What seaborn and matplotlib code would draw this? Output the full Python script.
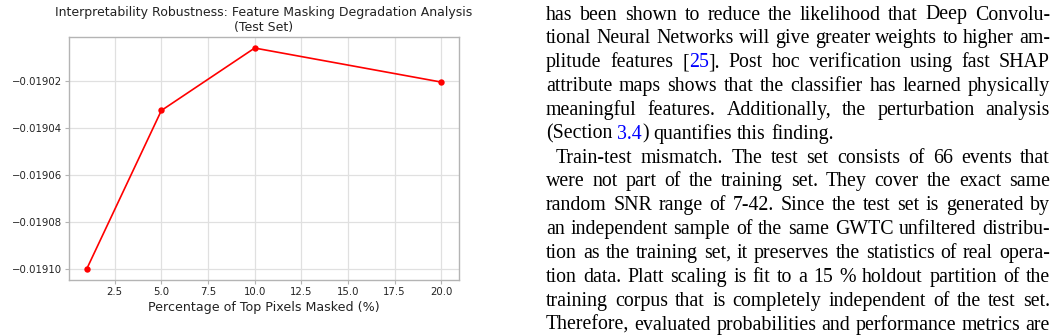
import matplotlib
matplotlib.use("Agg")
import matplotlib.pyplot as plt
import seaborn as sns
import pandas as pd

# Chart data
mask_pct = [1, 5, 10, 20]
score = [-0.0191000, -0.0190325, -0.0190059, -0.0190204]
y_ticks = [-0.01910, -0.01908, -0.01906, -0.01904, -0.01902]

chart_title = "Interpretability Robustness: Feature Masking Degradation Analysis\n(Test Set)"
x_label = "Percentage of Top Pixels Masked (%)"

# Page text next to the figure; {...} marks blue reference links
body_lines = [
    "has been shown to reduce the likelihood that Deep Convolu-",
    "tional Neural Networks will give greater weights to higher am-",
    "plitude features [{25}]. Post hoc verification using fast SHAP",
    "attribute maps shows that the classifier has learned physically",
    "meaningful features. Additionally, the perturbation analysis",
    "(Section {3.4}) quantifies this finding.",
    "Train-test mismatch. The test set consists of 66 events that",
    "were not part of the training set. They cover the exact same",
    "random SNR range of 7-42. Since the test set is generated by",
    "an independent sample of the same GWTC unfiltered distribu-",
    "tion as the training set, it preserves the statistics of real opera-",
    "tion data. Platt scaling is fit to a 15 % holdout partition of the",
    "training corpus that is completely independent of the test set.",
    "Therefore, evaluated probabilities and performance metrics are",
]
ragged_lines = {5}
indented_lines = {6}

W, H = 1053, 336
sns.set_style("whitegrid", {
    "grid.color": "#e0e0e0",
    "axes.edgecolor": "#b4b4b4",
    "xtick.bottom": True,
    "ytick.left": True,
    "xtick.color": "#b4b4b4",
    "ytick.color": "#b4b4b4",
})
plt.rcParams["font.family"] = ["DejaVu Sans"]
plt.rcParams["xtick.labelcolor"] = "#222222"
plt.rcParams["ytick.labelcolor"] = "#222222"

fig = plt.figure(figsize=(W / 100, H / 100), dpi=100)
ax = fig.add_axes([69 / W, 1 - 280 / H, 390 / W, 243 / H])

df = pd.DataFrame({"pct": mask_pct, "score": score})
sns.lineplot(data=df, x="pct", y="score", color="red", marker="o",
             markersize=4.6, markeredgewidth=0, linewidth=1.2, ax=ax)

ax.set_yticks(y_ticks)
ax.yaxis.set_major_formatter(
    matplotlib.ticker.FuncFormatter(lambda v, _: f"{v:.5f}".replace("-", "\u2212")))
ax.tick_params(labelsize=7.3, length=3, width=0.8, pad=2)
ax.set_xlabel(x_label, fontsize=9.1, color="#222222", labelpad=3)
ax.set_ylabel("")
ax.set_title(chart_title, fontsize=9.0, color="#222222", pad=4, linespacing=1.2)
for s in ax.spines.values():
    s.set_linewidth(1.0)
ax.grid(True, linewidth=0.9)

# --- justified page text on the right ---
renderer = fig.canvas.get_renderer()
text_font = dict(family="Liberation Serif", fontsize=14.35)
left_px, right_px = 546, 1050
top_base, line_step = 19.5, 23.85


def pieces(word):
    out, blue, buf = [], False, ""
    for ch in word:
        if ch in "{}":
            if buf:
                out.append((buf, "blue" if blue else "black"))
            buf, blue = "", ch == "{"
        else:
            buf += ch
    if buf:
        out.append((buf, "blue" if blue else "black"))
    return out


def width_of(txt):
    t = fig.text(0, 0, txt, **text_font)
    w = t.get_window_extent(renderer).width
    t.remove()
    return w


space_w = width_of("a a") - width_of("aa")

for i, line in enumerate(body_lines):
    words = line.split(" ")
    x0 = left_px + (10 if i in indented_lines else 0)
    widths = [sum(width_of(p) for p, _ in pieces(w)) for w in words]
    if i in ragged_lines or len(words) == 1:
        gap = space_w
    else:
        gap = (right_px - x0 - sum(widths)) / (len(words) - 1)
    y = H - (top_base + i * line_step)
    x = x0
    for w, ww in zip(words, widths):
        xx = x
        for p, c in pieces(w):
            fig.text(xx / W, y / H, p, color=c, va="baseline", ha="left", **text_font)
            xx += width_of(p)
        x += ww + gap

fig.savefig("out.png", dpi=100)
